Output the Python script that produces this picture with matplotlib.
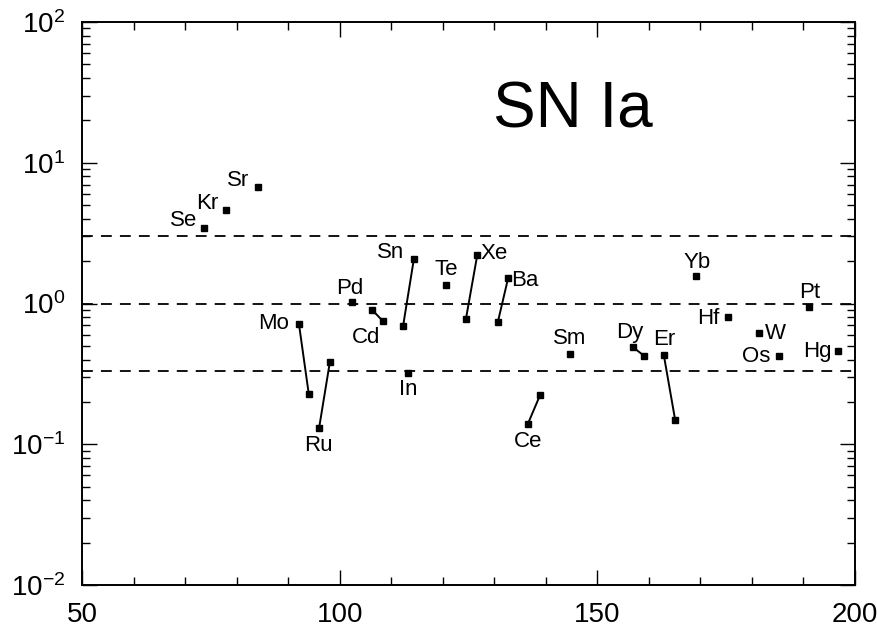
import matplotlib
matplotlib.use("Agg")
import matplotlib.pyplot as plt
from matplotlib.ticker import FixedLocator, LogLocator, NullFormatter

plt.rcParams['font.family'] = ['Liberation Sans', 'DejaVu Sans']

# Single elements: name, mass number, ratio
single_names = ["Se", "Kr", "Sr", "Pd", "In", "Te", "Sm", "Yb", "Hf", "W", "Os", "Pt", "Hg"]
single_x = [73.7, 77.9, 84.2, 102.4, 113.3, 120.6, 144.7, 169.2, 175.4, 181.4, 185.3, 191.1, 196.7]
single_y = [3.44, 4.62, 6.72, 1.03, 0.32, 1.35, 0.438, 1.57, 0.80, 0.616, 0.424, 0.944, 0.46]

# Paired isotopes connected by a line
pair_names = ["Mo", "Ru", "Cd", "Sn", "Xe", "Ba", "Ce", "Dy", "Er"]
pair_x1 = [92.1, 96.0, 106.3, 112.3, 124.5, 130.7, 136.5, 156.9, 162.9]
pair_y1 = [0.715, 0.130, 0.90, 0.69, 0.776, 0.74, 0.139, 0.49, 0.43]
pair_x2 = [94.0, 98.1, 108.4, 114.4, 126.7, 132.7, 138.9, 159.1, 165.1]
pair_y2 = [0.228, 0.384, 0.75, 2.07, 2.21, 1.52, 0.224, 0.424, 0.149]

ref_levels = [3.0, 1.0, 1.0 / 3.0]

# label offsets in pixels (layout only)
single_off = {"Se": (-21, 7), "Kr": (-19, 6), "Sr": (-20, 7),
              "Pd": (-2, 13), "In": (0, -16), "Te": (0, 16),
              "Sm": (0, 15), "Yb": (1, 13), "Hf": (-20, -1),
              "W": (16, 0), "Os": (-23, -1), "Pt": (1, 15),
              "Hg": (-21, -1)}
pair_off = {"Mo": (1, -25, 1), "Ru": (1, -1, -17), "Cd": (2, -17, -16), "Sn": (2, -23, 7),
            "Xe": (2, 17, 2), "Ba": (2, 17, -3), "Ce": (1, 0, -17), "Dy": (1, -3, 15),
            "Er": (1, 0, 16)}

LABEL_FS = 16

fig = plt.figure(figsize=(8.77, 6.26), dpi=100)
ax = fig.add_axes([82 / 877, 1 - 585 / 626, (855 - 82) / 877, (585 - 22) / 626])
ax.set_yscale("log")
ax.set_xlim(50, 200)
ax.set_ylim(1e-2, 1e2)

for lv in ref_levels:
    ax.axhline(lv, color="black", lw=1.3, ls=(0, (6, 4.5)), zorder=1)

ax.plot(single_x, single_y, ls="none", marker="s", ms=4.5, color="black", zorder=3)
for n, x, y in zip(single_names, single_x, single_y):
    dx, dy = single_off[n]
    ax.annotate(n, (x, y), xytext=(dx, dy), textcoords="offset pixels",
                ha="center", va="center", fontsize=LABEL_FS)

for n, x1, y1, x2, y2 in zip(pair_names, pair_x1, pair_y1, pair_x2, pair_y2):
    ax.plot([x1, x2], [y1, y2], color="black", lw=1.4, marker="s", ms=4.5, zorder=3)
    which, dx, dy = pair_off[n]
    px, py = (x1, y1) if which == 1 else (x2, y2)
    ax.annotate(n, (px, py), xytext=(dx, dy), textcoords="offset pixels",
                ha="center", va="center", fontsize=LABEL_FS)

ax.text(0.635, 0.842, "SN Ia", transform=ax.transAxes, fontsize=46,
        ha="center", va="center")

ax.xaxis.set_major_locator(FixedLocator([50, 100, 150, 200]))
ax.xaxis.set_minor_locator(FixedLocator(list(range(60, 200, 10))))
ax.yaxis.set_major_locator(LogLocator(base=10, numticks=10))
ax.yaxis.set_minor_locator(LogLocator(base=10, subs=range(2, 10), numticks=20))
ax.yaxis.set_minor_formatter(NullFormatter())
ax.tick_params(which="both", direction="in", top=True, right=True, width=1.0)
ax.tick_params(which="major", length=11, labelsize=20)
ax.tick_params(axis="x", which="major", pad=12)
ax.tick_params(axis="y", which="major", pad=12)
ax.tick_params(which="minor", length=6)
for s in ax.spines.values():
    s.set_linewidth(1.4)

fig.savefig("out.png", dpi=100)
